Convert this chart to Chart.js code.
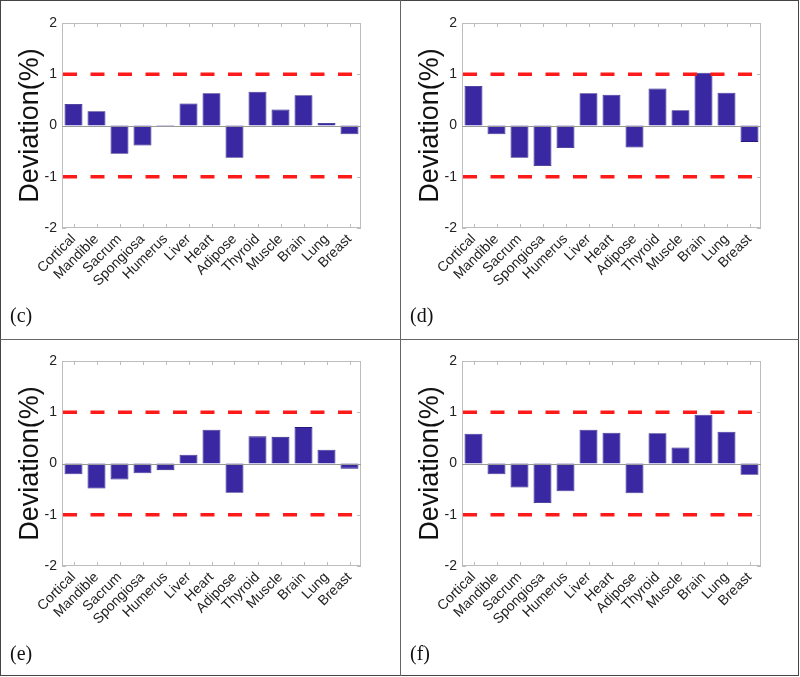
<!DOCTYPE html>
<html>
<head>
<meta charset="utf-8">
<script src="https://cdn.jsdelivr.net/npm/chart.js@4.4.1/dist/chart.umd.min.js"></script>
<style>
	body { margin: 0; background: #fff; }
	#fig { position: relative; width: 800px; height: 677px; }
	#frame { position: absolute; left: 0; top: 0; width: 799px; height: 676px; box-sizing: border-box; border: 1.5px solid #444; }
	.vline { position: absolute; left: 400px; top: 0; width: 1px; height: 676px; background: #666; }
	.hline { position: absolute; left: 0; top: 339px; width: 799px; height: 1px; background: #666; }
	.panel { position: absolute; width: 400px; height: 338px; }
	.tag { position: absolute; left: 10px; top: 305px; font: 20px/20px "Liberation Serif", "Times New Roman", serif; color: #111; }
</style>
</head>
<body>
<div id="fig">
	<div class="panel" style="left:0;top:0"><canvas id="chartC" width="400" height="338"></canvas><div class="tag">(c)</div></div>
	<div class="panel" style="left:400px;top:0"><canvas id="chartD" width="400" height="338"></canvas><div class="tag">(d)</div></div>
	<div class="panel" style="left:0;top:338px"><canvas id="chartE" width="400" height="338"></canvas><div class="tag">(e)</div></div>
	<div class="panel" style="left:400px;top:338px"><canvas id="chartF" width="400" height="338"></canvas><div class="tag">(f)</div></div>
	<div id="frame"></div>
	<div class="vline"></div>
	<div class="hline"></div>
</div>
<script>
// data
var organs = ["Cortical", "Mandible", "Sacrum", "Spongiosa", "Humerus", "Liver", "Heart", "Adipose", "Thyroid", "Muscle", "Brain", "Lung", "Breast"];
var devC = [0.42, 0.28, -0.55, -0.39, -0.01, 0.43, 0.63, -0.63, 0.66, 0.31, 0.59, 0.05, -0.17];
var devD = [0.77, -0.17, -0.63, -0.79, -0.44, 0.63, 0.60, -0.43, 0.72, 0.30, 1.03, 0.64, -0.32];
var devE = [-0.21, -0.49, -0.31, -0.19, -0.13, 0.17, 0.66, -0.57, 0.53, 0.52, 0.71, 0.27, -0.10];
var devF = [0.58, -0.21, -0.47, -0.77, -0.54, 0.66, 0.60, -0.58, 0.59, 0.31, 0.95, 0.62, -0.22];
var yTicks = [-2, -1, 0, 1, 2];
var limits = [1, -1];

// box, inward ticks, zero baseline and the +-1% limits
var matlabAxes = {
	id: 'matlabAxes',
	afterDatasetsDraw: function (chart) {
		var ctx = chart.ctx;
		var a = chart.chartArea;
		var x = chart.scales.x, y = chart.scales.y;
		ctx.save();
		ctx.strokeStyle = '#bdbdbd';
		ctx.lineWidth = 1;
		ctx.strokeRect(a.left + 0.5, a.top + 0.5, a.right - a.left - 1, a.bottom - a.top - 1);
		ctx.beginPath();
		yTicks.forEach(function (v) {
			var py = Math.round(y.getPixelForValue(v)) + 0.5;
			ctx.moveTo(a.left, py); ctx.lineTo(a.left + 4, py);
			ctx.moveTo(a.right, py); ctx.lineTo(a.right - 4, py);
		});
		organs.forEach(function (o, i) {
			var px = Math.round(x.getPixelForValue(i)) + 0.5;
			ctx.moveTo(px, a.bottom); ctx.lineTo(px, a.bottom - 4);
			ctx.moveTo(px, a.top); ctx.lineTo(px, a.top + 4);
		});
		ctx.stroke();
		// zero baseline
		ctx.strokeStyle = '#9a9a9a';
		ctx.beginPath();
		var p0 = Math.round(y.getPixelForValue(0)) + 0.5;
		ctx.moveTo(a.left, p0); ctx.lineTo(a.right, p0);
		ctx.stroke();
		// red dashed limits
		ctx.strokeStyle = '#ff1a1a';
		ctx.lineWidth = 3.5;
		ctx.setLineDash([14, 13.5]);
		limits.forEach(function (v) {
			var py = y.getPixelForValue(v);
			ctx.beginPath();
			ctx.moveTo(a.left + 1, py);
			ctx.lineTo(a.right, py);
			ctx.stroke();
		});
		ctx.restore();
	}
};

function chart(id, values) {
	var ctx = document.getElementById(id).getContext('2d');
	new Chart(ctx, {
		type: 'bar',
		data: {
			labels: organs,
			datasets: [{
				data: values,
				backgroundColor: '#3a28a3',
				borderColor: '#241880',
				borderWidth: 0.8,
				barPercentage: 0.78,
				categoryPercentage: 1
			}]
		},
		options: {
			responsive: false,
			animation: false,
			layout: { padding: { top: 23, right: 39, left: 0, bottom: 0 } },
			plugins: { legend: { display: false }, tooltip: { enabled: false } },
			scales: {
				x: {
					grid: { drawOnChartArea: false, drawTicks: false, display: false },
					border: { display: false },
					ticks: {
						autoSkip: false, maxRotation: 45, minRotation: 45, padding: 3,
						color: '#222', font: { family: 'Liberation Sans', size: 14 }
					},
					afterFit: function (s) { s.height = 110; }
				},
				y: {
					min: -2, max: 2,
					grid: { drawOnChartArea: false, drawTicks: false, display: false },
					border: { display: false },
					ticks: {
						stepSize: 1, padding: 5,
						color: '#222', font: { family: 'Liberation Sans', size: 14 }
					},
					title: {
						display: true, text: 'Deviation(%)', color: '#111',
						font: { family: 'Liberation Sans', size: 27 },
						padding: { top: 14, bottom: 0 }
					},
					afterFit: function (s) { s.width = 62; }
				}
			}
		},
		plugins: [matlabAxes]
	});
}

chart("chartC", devC);
chart("chartD", devD);
chart("chartE", devE);
chart("chartF", devF);
</script>
</body>
</html>
